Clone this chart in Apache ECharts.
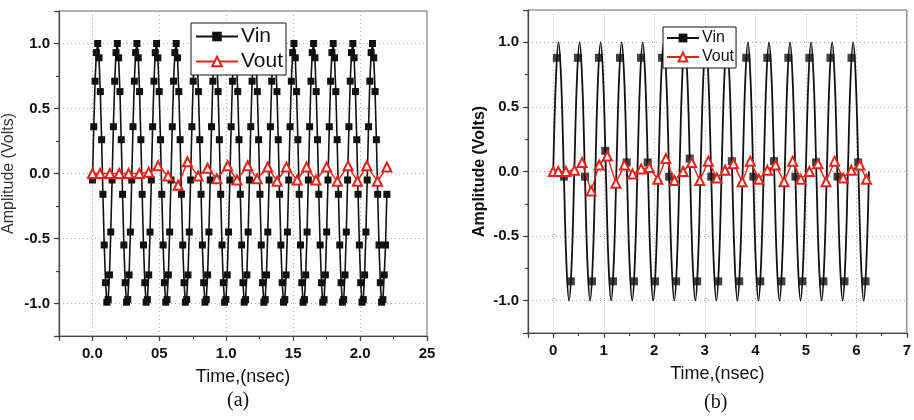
<!DOCTYPE html>
<html>
<head>
<meta charset="utf-8">
<script src="https://cdn.jsdelivr.net/npm/echarts@6/dist/echarts.min.js"></script>
<style>
  html, body { margin: 0; padding: 0; background: #fff; }
  #chart { width: 914px; height: 420px; }
</style>
</head>
<body>
<div id="chart"></div>
<script>
// ---- data (a): 2.2 ns window ----
// Vin samples, one row per period (15 samples), sample interval vinA_dt
const vinA_dt = 2.2 / 225;
const vinA = [
  -0.05, 0.36, 0.71, 0.93, 1.0, 0.89, 0.63, 0.26, -0.16, -0.55, -0.84, -0.99, -0.97, -0.78, -0.45,
  -0.05, 0.36, 0.71, 0.93, 1.0, 0.89, 0.63, 0.26, -0.16, -0.55, -0.84, -0.99, -0.97, -0.78, -0.45,
  -0.05, 0.36, 0.71, 0.93, 1.0, 0.89, 0.63, 0.26, -0.16, -0.55, -0.84, -0.99, -0.97, -0.78, -0.45,
  -0.05, 0.36, 0.71, 0.93, 1.0, 0.89, 0.63, 0.26, -0.16, -0.55, -0.84, -0.99, -0.97, -0.78, -0.45,
  -0.05, 0.36, 0.71, 0.93, 1.0, 0.89, 0.63, 0.26, -0.16, -0.55, -0.84, -0.99, -0.97, -0.78, -0.45,
  -0.05, 0.36, 0.71, 0.93, 1.0, 0.89, 0.63, 0.26, -0.16, -0.55, -0.84, -0.99, -0.97, -0.78, -0.45,
  -0.05, 0.36, 0.71, 0.93, 1.0, 0.89, 0.63, 0.26, -0.16, -0.55, -0.84, -0.99, -0.97, -0.78, -0.45,
  -0.05, 0.36, 0.71, 0.93, 1.0, 0.89, 0.63, 0.26, -0.16, -0.55, -0.84, -0.99, -0.97, -0.78, -0.45,
  -0.05, 0.36, 0.71, 0.93, 1.0, 0.89, 0.63, 0.26, -0.16, -0.55, -0.84, -0.99, -0.97, -0.78, -0.45,
  -0.05, 0.36, 0.71, 0.93, 1.0, 0.89, 0.63, 0.26, -0.16, -0.55, -0.84, -0.99, -0.97, -0.78, -0.45,
  -0.05, 0.36, 0.71, 0.93, 1.0, 0.89, 0.63, 0.26, -0.16, -0.55, -0.84, -0.99, -0.97, -0.78, -0.45,
  -0.05, 0.36, 0.71, 0.93, 1.0, 0.89, 0.63, 0.26, -0.16, -0.55, -0.84, -0.99, -0.97, -0.78, -0.45,
  -0.05, 0.36, 0.71, 0.93, 1.0, 0.89, 0.63, 0.26, -0.16, -0.55, -0.84, -0.99, -0.97, -0.78, -0.45,
  -0.05, 0.36, 0.71, 0.93, 1.0, 0.89, 0.63, 0.26, -0.16, -0.55, -0.84, -0.99, -0.97, -0.78, -0.45,
  -0.05, 0.36, 0.71, 0.93, 1.0, 0.89, 0.63, 0.26, -0.16, -0.55, -0.84, -0.99, -0.97, -0.78, -0.55,
  -0.16
];
const voutA_t = [0, 0.057, 0.13, 0.2, 0.27, 0.35, 0.42, 0.49, 0.565, 0.64, 0.71, 0.79, 0.86, 0.93, 1.01,
  1.08, 1.16, 1.23, 1.31, 1.38, 1.45, 1.53, 1.6, 1.67, 1.75, 1.83, 1.91, 1.98, 2.05, 2.13, 2.2];
const voutA = [0, 0, 0, 0, 0, 0, 0.01, 0.06, -0.02, -0.09, 0.09, -0.02, 0.04, -0.04, 0.06,
  -0.05, 0.06, -0.04, 0.05, -0.06, 0.05, -0.05, 0.05, -0.05, 0.05, -0.06, 0.06, -0.06, 0.06, -0.06, 0.05];
const xTickValsA = [0, 0.5, 1, 1.5, 2, 2.5];
const xTickLabelsA = ['0.0', '05', '1.0', '15', '2.0', '25'];

// ---- data (b): 6.25 ns window ----
// Vin trace, eighth-period samples
const vinB_dt = 6.25 / 120;
const vinB = [
  0, 0.71, 1, 0.71, 0, -0.71, -1, -0.71,
  0, 0.71, 1, 0.71, 0, -0.71, -1, -0.71,
  0, 0.71, 1, 0.71, 0, -0.71, -1, -0.71,
  0, 0.71, 1, 0.71, 0, -0.71, -1, -0.71,
  0, 0.71, 1, 0.71, 0, -0.71, -1, -0.71,
  0, 0.71, 1, 0.71, 0, -0.71, -1, -0.71,
  0, 0.71, 1, 0.71, 0, -0.71, -1, -0.71,
  0, 0.71, 1, 0.71, 0, -0.71, -1, -0.71,
  0, 0.71, 1, 0.71, 0, -0.71, -1, -0.71,
  0, 0.71, 1, 0.71, 0, -0.71, -1, -0.71,
  0, 0.71, 1, 0.71, 0, -0.71, -1, -0.71,
  0, 0.71, 1, 0.71, 0, -0.71, -1, -0.71,
  0, 0.71, 1, 0.71, 0, -0.71, -1, -0.71,
  0, 0.71, 1, 0.71, 0, -0.71, -1, -0.71,
  0, 0.71, 1, 0.71, 0, -0.71, -1, -0.71,
  0
];
// Vin symbols (three per period)
const vinBMark_t = [
  0.071, 0.211, 0.349, 0.488, 0.628, 0.766, 0.904, 1.030, 1.182, 1.321, 1.454, 1.599,
  1.738, 1.871, 2.016, 2.154, 2.294, 2.432, 2.571, 2.702, 2.849, 2.988, 3.128, 3.266,
  3.404, 3.536, 3.682, 3.821, 3.961, 4.099, 4.238, 4.370, 4.516, 4.654, 4.794, 4.932,
  5.071, 5.204, 5.349, 5.488, 5.628, 5.766, 5.904, 6.037, 6.182
];
const vinBMark = [
  0.88, -0.04, -0.85, 0.88, -0.04, -0.85, 0.88, 0.16, -0.85, 0.88, 0.07, -0.85,
  0.88, 0.07, -0.85, 0.88, -0.04, -0.85, 0.88, 0.1, -0.85, 0.88, -0.04, -0.85,
  0.88, 0.08, -0.85, 0.88, -0.04, -0.85, 0.88, 0.08, -0.85, 0.88, -0.04, -0.85,
  0.88, 0.07, -0.85, 0.88, -0.04, -0.85, 0.88, 0.07, -0.85
];
const voutB_t = [0, 0.1, 0.25, 0.42, 0.57, 0.75, 0.91, 1.07, 1.24, 1.41, 1.57, 1.74, 1.9,
  2.07, 2.23, 2.4, 2.57, 2.74, 2.9, 3.07, 3.24, 3.4, 3.57, 3.74, 3.9, 4.07, 4.24, 4.4,
  4.57, 4.74, 4.9, 5.07, 5.24, 5.4, 5.57, 5.74, 5.9, 6.07, 6.2];
const voutB = [0, 0, 0, 0.01, 0.07, -0.15, 0.05, 0.12, -0.09, 0.05, -0.02, 0.02, 0.03,
  -0.06, 0.1, -0.07, 0, 0.07, -0.07, 0.08, -0.05, 0.01, 0.06, -0.08, 0.08, -0.06, 0.01, 0.05,
  -0.08, 0.08, -0.06, 0, 0.06, -0.08, 0.08, -0.05, 0.01, 0.05, -0.06];

const yTickVals = [-1, -0.5, 0, 0.5, 1];

function pairs(ts, vs) {
  return vs.map((v, i) => [ts[i], v]);
}
function stepped(dt, vs) {
  return vs.map((v, i) => [i * dt, v]);
}

const FONT = "'Liberation Sans', Arial, sans-serif";
const AXIS_COLOR = '#444';
const GRID_LINE = { show: true, lineStyle: { type: [1, 3], color: '#aaa', width: 1 } };

function mainX(grid, min, max, split, fmt) {
  return {
    type: 'value', gridIndex: grid, position: 'bottom', min: min, max: max, splitNumber: split,
    axisLine: { onZero: false, lineStyle: { color: AXIS_COLOR, width: 1.2 } },
    axisTick: { length: 5, lineStyle: { color: AXIS_COLOR, width: 1.2 } },
    axisLabel: { formatter: fmt, color: '#111', fontWeight: 'bold', fontSize: 15, fontFamily: FONT, margin: 10 },
    splitLine: GRID_LINE,
    name: 'Time,(nsec)', nameLocation: 'middle', nameGap: 32,
    nameTextStyle: { fontSize: 18, color: '#111', fontFamily: FONT }
  };
}
function minorX(grid, min, max, step) {
  return {
    type: 'value', gridIndex: grid, position: 'bottom', min: min, max: max, interval: step,
    axisLine: { show: false, onZero: false }, axisLabel: { show: false }, splitLine: { show: false },
    axisTick: { length: 3, lineStyle: { color: AXIS_COLOR, width: 1.2 } }
  };
}
function mainY(grid, bold, gap) {
  return {
    type: 'value', gridIndex: grid, position: 'left', min: -1.25, max: 1.25, splitNumber: 5,
    axisLine: { onZero: false, lineStyle: { color: AXIS_COLOR, width: 1.2 } },
    axisTick: { length: 5, lineStyle: { color: AXIS_COLOR, width: 1.2 } },
    axisLabel: {
      formatter: v => (yTickVals.indexOf(v) >= 0 ? v.toFixed(1) : ''),
      color: '#111', fontWeight: 'bold', fontSize: 15, fontFamily: FONT, margin: 9
    },
    splitLine: GRID_LINE,
    name: 'Amplitude (Volts)', nameLocation: 'middle', nameGap: gap,
    nameTextStyle: { fontSize: 16, color: bold ? '#111' : '#333', fontWeight: bold ? 'bold' : 'normal', fontFamily: FONT }
  };
}
function minorY(grid) {
  return {
    type: 'value', gridIndex: grid, position: 'left', min: -1.25, max: 1.25, interval: 0.25,
    axisLine: { show: false, onZero: false }, axisLabel: { show: false }, splitLine: { show: false },
    axisTick: { length: 3, lineStyle: { color: AXIS_COLOR, width: 1.2 } }
  };
}

const chart = echarts.init(document.getElementById('chart'), null, { renderer: 'canvas' });

chart.setOption({
  animation: false,
  backgroundColor: '#fff',
  grid: [
    { left: 57, top: 11, width: 370, height: 325, show: true, borderColor: '#666', borderWidth: 1 },
    { left: 528, top: 10, width: 379, height: 323, show: true, borderColor: '#666', borderWidth: 1 }
  ],
  xAxis: [
    mainX(0, -0.25, 2.5, 5, v => {
      const i = xTickValsA.indexOf(Math.round(v * 100) / 100);
      return i >= 0 ? xTickLabelsA[i] : '';
    }),
    minorX(0, -0.25, 2.5, 0.25),
    mainX(1, -0.5, 7, 8, v => (v >= 0 && Math.abs(v - Math.round(v)) < 1e-6 ? String(Math.round(v)) : '')),
    minorX(1, -0.5, 7, 0.5)
  ],
  yAxis: [mainY(0, false, 42), minorY(0), mainY(1, true, 40), minorY(1)],
  legend: [
    {
      data: ['Vin', 'Vout'], orient: 'vertical', left: 191, top: 23,
      itemWidth: 42, itemHeight: 12, itemGap: 4, padding: [3, 3, 3, 4],
      borderColor: '#111', borderWidth: 1, backgroundColor: '#fff',
      textStyle: { fontSize: 21, color: '#111', fontFamily: FONT, padding: [0, 0, 0, -2] }
    },
    {
      data: ['Vin', 'Vout'], orient: 'vertical', left: 663, top: 27,
      itemWidth: 32, itemHeight: 11, itemGap: 3, padding: [3, 2, 3, 3],
      borderColor: '#111', borderWidth: 1, backgroundColor: '#fff',
      textStyle: { fontSize: 16, color: '#111', fontFamily: FONT, padding: [0, 0, 0, -2] }
    }
  ],
  graphic: [
    { type: 'text', left: 227, top: 391, style: { text: '(a)', font: "20px 'Liberation Serif', 'Times New Roman', serif", fill: '#111' } },
    { type: 'text', left: 704, top: 393, style: { text: '(b)', font: "20px 'Liberation Serif', 'Times New Roman', serif", fill: '#111' } }
  ],
  series: [
    {
      name: 'Vin', type: 'line', xAxisIndex: 0, yAxisIndex: 0,
      data: stepped(vinA_dt, vinA),
      symbol: 'rect', symbolSize: 7, showAllSymbol: true,
      itemStyle: { color: '#111' }, lineStyle: { color: '#111', width: 1.6 }
    },
    {
      name: 'Vout', type: 'line', xAxisIndex: 0, yAxisIndex: 0,
      data: pairs(voutA_t, voutA),
      symbol: 'emptyTriangle', symbolSize: 9, showAllSymbol: true,
      itemStyle: { color: '#e0241b' }, lineStyle: { color: '#e0241b', width: 1.4 }
    },
    {
      name: 'Vin', type: 'line', xAxisIndex: 2, yAxisIndex: 2,
      data: stepped(vinB_dt, vinB), smooth: 0.4,
      symbol: 'rect', showSymbol: false,
      itemStyle: { color: '#111' }, lineStyle: { color: '#111', width: 1.8 }
    },
    {
      name: 'Vin', type: 'scatter', xAxisIndex: 2, yAxisIndex: 2,
      data: pairs(vinBMark_t, vinBMark),
      symbol: 'rect', symbolSize: 8, itemStyle: { color: '#111' }
    },
    {
      name: 'Vout', type: 'line', xAxisIndex: 2, yAxisIndex: 2,
      data: pairs(voutB_t, voutB),
      symbol: 'emptyTriangle', symbolSize: 9, showAllSymbol: true,
      itemStyle: { color: '#e0241b' }, lineStyle: { color: '#e0241b', width: 1.4 }
    }
  ]
});
</script>
</body>
</html>
